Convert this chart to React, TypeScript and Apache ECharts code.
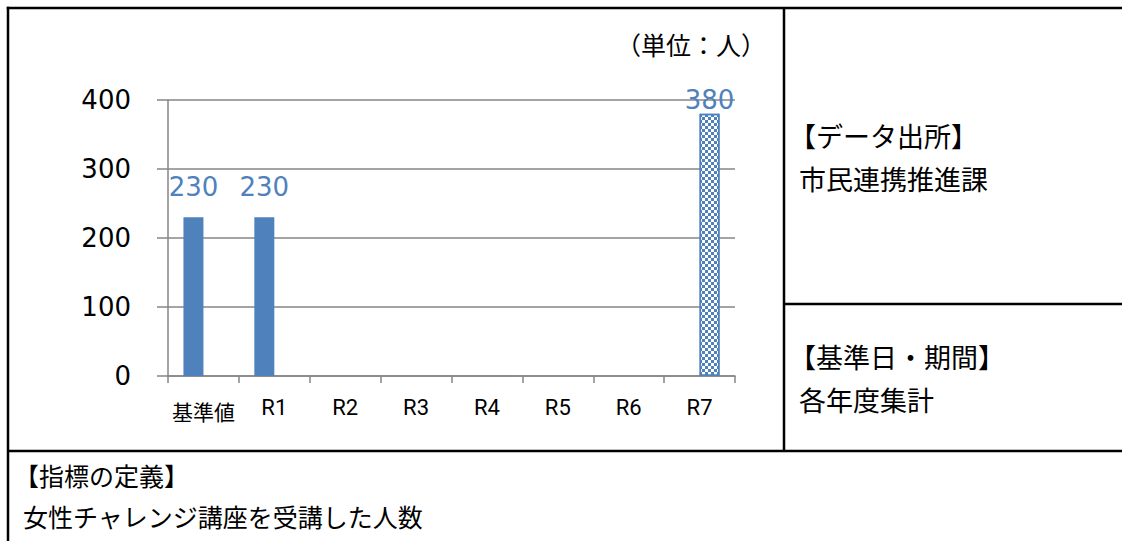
import React, { useEffect, useRef } from "react";
import * as echarts from "echarts";

const categories = ["基準値", "R1", "R2", "R3", "R4", "R5", "R6", "R7"];
const actualValues: (number | null)[] = [230, 230, null, null, null, null, null, null];
const targetValues: (number | null)[] = [null, null, null, null, null, null, null, 380];
const yMin = 0;
const yMax = 400;
const yInterval = 100;
const unitText = "（単位：人）";
const sourceTitle = "【データ出所】";
const sourceText = "市民連携推進課";
const periodTitle = "【基準日・期間】";
const periodText = "各年度集計";
const defTitle = "【指標の定義】";
const defText = "女性チャレンジ講座を受講した人数";

const BLUE = "#4F81BD";
const GRAY = "#868686";
const JP = "'Noto Sans CJK JP', sans-serif";
const NUM = "'DejaVu Sans', 'Noto Sans CJK JP', sans-serif";
const CAT = "Roboto, 'DejaVu Sans', sans-serif";

export default function App() {
  const ref = useRef<HTMLDivElement>(null);
  useEffect(() => {
    if (!ref.current) return;
    const chart = echarts.init(ref.current, null, { renderer: "svg" });
    const line = (x1: number, y1: number, x2: number, y2: number) => ({
      type: "line",
      shape: { x1, y1, x2, y2 },
      style: { stroke: "#000", lineWidth: 2.5 },
      silent: true,
    });
    const txt = (text: string, x: number, y: number, size: number, align = "left") => ({
      type: "text",
      x,
      y,
      style: {
        text,
        fill: "#000",
        font: `${size}px ${JP}`,
        align,
        verticalAlign: "middle",
      },
      silent: true,
    });
    chart.setOption({
      animation: false,
      backgroundColor: "#fff",
      grid: { left: 168, right: 387, top: 100, bottom: 165, containLabel: false },
      xAxis: {
        type: "category",
        data: categories,
        axisLine: { show: true, lineStyle: { color: GRAY, width: 1.5 } },
        axisTick: { show: true, length: 7, interval: 0, lineStyle: { color: GRAY, width: 1.5 } },
        axisLabel: {
          interval: 0,
          margin: 20,
          color: "#000",
          fontSize: 22,
          fontFamily: CAT,
          formatter: (v: string) => (/^[A-Z0-9]+$/.test(v) ? `{en|${v}}` : `{jp|${v}}`),
          rich: {
            en: { fontSize: 22, fontFamily: CAT, color: "#000" },
            jp: { fontSize: 21, fontFamily: JP, color: "#000", padding: [4, 0, 0, 0] },
          },
        },
      },
      yAxis: {
        type: "value",
        min: yMin,
        max: yMax,
        interval: yInterval,
        axisLine: { show: true, lineStyle: { color: GRAY, width: 1.5 } },
        axisTick: { show: true, inside: false, length: 11, lineStyle: { color: GRAY, width: 1.5 } },
        splitLine: { show: true, lineStyle: { color: GRAY, width: 1.5 } },
        axisLabel: { margin: 37, color: "#000", fontSize: 26, fontFamily: NUM },
      },
      series: [
        {
          name: "実績",
          type: "bar",
          barWidth: 20,
          barGap: "0%",
          data: actualValues.map((v) => ({ value: v })),
          itemStyle: { color: BLUE },
          label: {
            show: true,
            position: "top",
            distance: 17,
            color: BLUE,
            fontSize: 26,
            fontFamily: NUM,
          },
        },
        {
          name: "目標",
          type: "bar",
          barWidth: 20,
          barGap: "0%",
          data: targetValues.map((v) => ({ value: v })),
          itemStyle: {
            color: "#ffffff",
            borderColor: BLUE,
            borderWidth: 1.5,
            decal: {
              symbol: "rect",
              symbolSize: 1,
              color: BLUE,
              dashArrayX: [
                [3, 3],
                [0, 3, 3, 0],
              ],
              dashArrayY: [3, 0],
              rotation: 0,
            },
          },
          label: {
            show: true,
            position: "top",
            distance: 1,
            color: BLUE,
            fontSize: 26,
            fontFamily: NUM,
          },
        },
      ],
      graphic: [
        line(6.75, 8, 1122, 8),
        line(8, 6.75, 8, 541),
        line(784, 8, 784, 451),
        line(784, 304, 1122, 304),
        line(8, 451, 1122, 451),
        txt(unitText, 766, 44, 25, "right"),
        txt(sourceTitle, 789, 135, 27),
        txt(sourceText, 799, 178, 27),
        txt(periodTitle, 789, 356, 27),
        txt(periodText, 799, 399, 27),
        txt(defTitle, 14, 475, 25),
        txt(defText, 23, 516, 25),
      ],
    });
    return () => chart.dispose();
  }, []);
  return (
    <div
      ref={ref}
      style={{ position: "absolute", left: 0, top: 0, width: 1122, height: 541 }}
    />
  );
}
